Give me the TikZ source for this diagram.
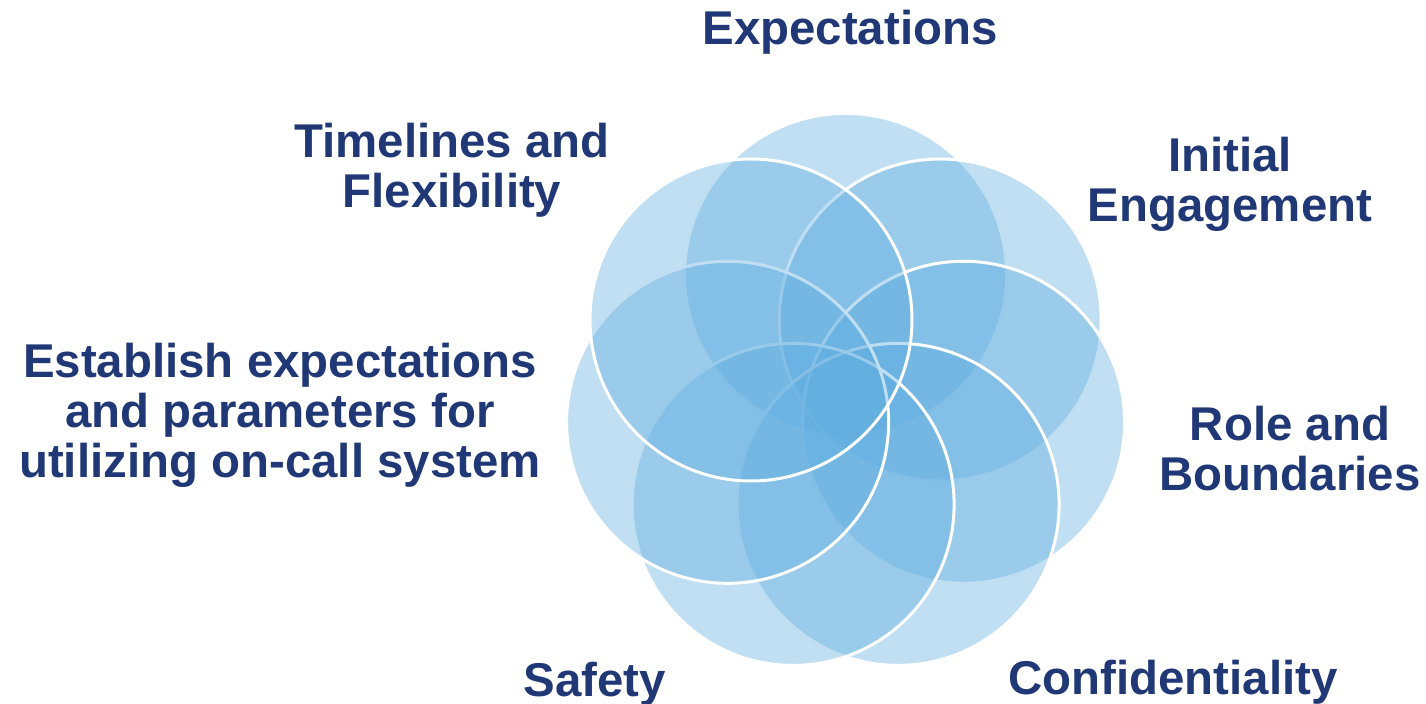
\documentclass[tikz,border=0pt]{standalone}
\usepackage{fontspec}
\setmainfont{Liberation Sans}
\definecolor{petal}{HTML}{5EACDF}
\definecolor{navy}{RGB}{32,56,118}
\tikzset{
  petalstyle/.style={fill=petal, fill opacity=0.39, draw=white, draw opacity=1, line width=1.5pt},
  lbl/.style={text=navy, font=\bfseries\fontsize{23.7}{25}\selectfont, align=center, inner sep=0pt, anchor=base}
}
\begin{document}
\begin{tikzpicture}[x=0.5pt, y=-0.5pt]
\useasboundingbox (0,0) rectangle (1426,704);
\coordinate (cE) at (845.6,274.4);
\coordinate (cI) at (940.2,320.0);
\coordinate (cR) at (963.6,422.3);
\coordinate (cC) at (898.1,504.4);
\coordinate (cS) at (793.1,504.4);
\coordinate (cP) at (727.6,422.3);
\coordinate (cT) at (751.0,320.0);
\foreach \c in {cE,cI,cR,cC,cS,cP,cT}{
  \draw[petalstyle] (\c) circle (161);
}
\node[lbl] (tE) at (850,45) {Expectations};
\node[lbl] (tI) at (1230,222) {Initial\\Engagement};
\node[lbl] (tR) at (1290,491) {Role and\\Boundaries};
\node[lbl] (tC) at (1173,695) {Confidentiality};
\node[lbl] (tS) at (595,697) {Safety};
\node[lbl] (tP) at (280,478) {Establish expectations\\and parameters for\\utilizing on-call system};
\node[lbl] (tT) at (452,208) {Timelines and\\Flexibility};
\end{tikzpicture}
\end{document}
